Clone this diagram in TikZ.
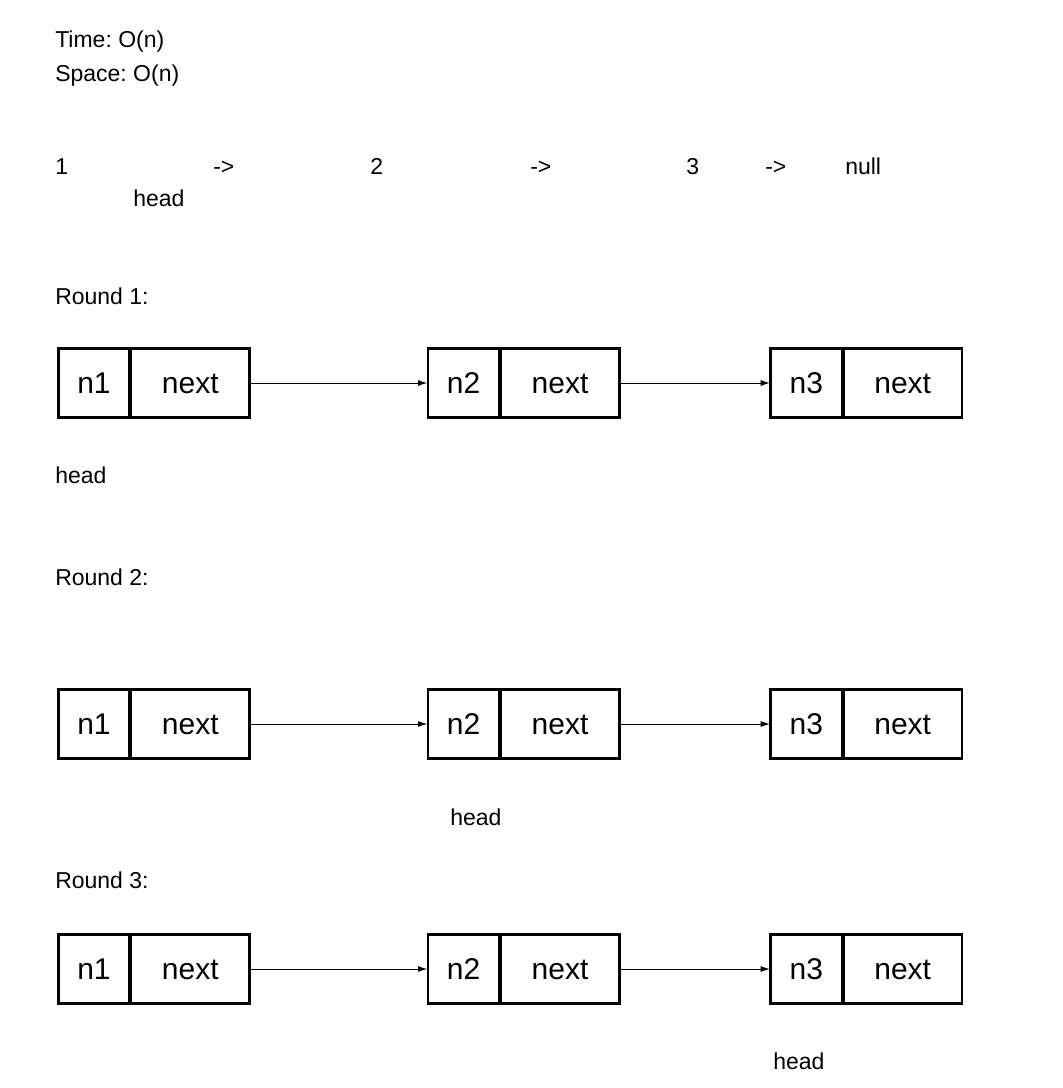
\documentclass[tikz,border=0pt]{standalone}
\usepackage{fontspec}
\setmainfont{Liberation Sans}
\usetikzlibrary{positioning,arrows.meta}
\frenchspacing

\begin{document}
\begin{tikzpicture}[>={Latex[length=7pt,width=4.5pt]},x=0.75pt,y=-0.75pt,font=\fontsize{17.25pt}{20pt}\selectfont]
\tikzstyle{txt}=[anchor=base west,inner sep=0pt]
\tikzstyle{key}=[rectangle,draw,line width=2pt,outer sep=0.5pt,minimum width=53.5pt,minimum height=51.75pt,text height=15pt,text depth=0pt,font=\fontsize{22.5pt}{26pt}\selectfont]
\tikzstyle{ptr}=[rectangle,draw,line width=2pt,outer sep=0.5pt,minimum width=89pt,minimum height=51.75pt,text height=15pt,text depth=0pt,font=\fontsize{22.5pt}{26pt}\selectfont]
\tikzstyle{link}=[->,line width=0.75pt]

\useasboundingbox (0,0) rectangle (1063,1088);

% Complexity
\node[txt] (T) at (55,48) {Time: O(n)};
\node[txt] (S) at (55,81) {Space: O(n)};

% List
\node[txt] (L1) at (55,174) {1};
\node[txt] (LA) at (213,174) {->};
\node[txt] (L2) at (370,174) {2};
\node[txt] (LB) at (530,174) {->};
\node[txt] (L3) at (686,174) {3};
\node[txt] (LC) at (765,174) {->};
\node[txt] (LN) at (845,174) {null};
\node[txt] (LH) at (133,206) {head};

% Round 1
\node[txt] (R1) at (55,304) {Round 1:};
\node[key] (A1) at (94,383) {n1};
\node[ptr,right=0pt of A1] (A1n) {next};
\node[key,right=132.75pt of A1n] (A2) {n2};
\node[ptr,right=0pt of A2] (A2n) {next};
\node[key,right=112.5pt of A2n] (A3) {n3};
\node[ptr,right=0pt of A3] (A3n) {next};
\node[txt] (H1) at (55,483) {head};

% Round 2
\node[txt] (R2) at (55,585) {Round 2:};
\node[key] (B1) at (94,724) {n1};
\node[ptr,right=0pt of B1] (B1n) {next};
\node[key,right=132.75pt of B1n] (B2) {n2};
\node[ptr,right=0pt of B2] (B2n) {next};
\node[key,right=112.5pt of B2n] (B3) {n3};
\node[ptr,right=0pt of B3] (B3n) {next};
\node[txt] (H2) at (450,825) {head};

% Round 3
\node[txt] (R3) at (55,888) {Round 3:};
\node[key] (C1) at (94,969) {n1};
\node[ptr,right=0pt of C1] (C1n) {next};
\node[key,right=132.75pt of C1n] (C2) {n2};
\node[ptr,right=0pt of C2] (C2n) {next};
\node[key,right=112.5pt of C2n] (C3) {n3};
\node[ptr,right=0pt of C3] (C3n) {next};
\node[txt] (H3) at (773,1069) {head};

% Links
\draw[link] (A1n.east) -- (A2.west);
\draw[link] (A2n.east) -- (A3.west);

\draw[link] (B1n.east) -- (B2.west);
\draw[link] (B2n.east) -- (B3.west);

\draw[link] (C1n.east) -- (C2.west);
\draw[link] (C2n.east) -- (C3.west);
\end{tikzpicture}
\end{document}
